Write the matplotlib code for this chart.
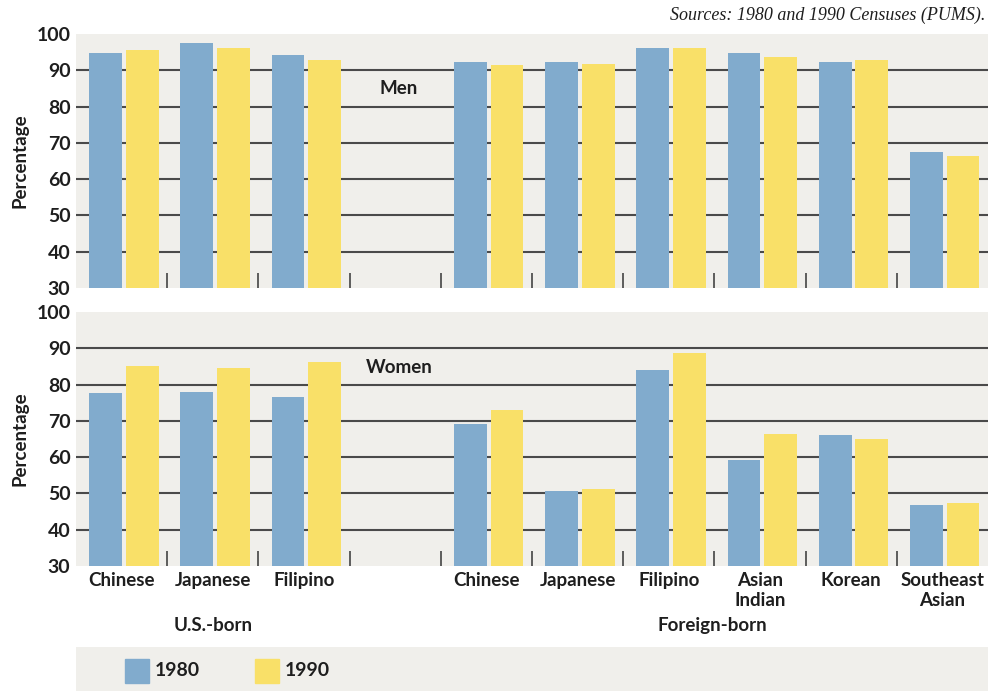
import numpy as np
import matplotlib.pyplot as plt
from matplotlib.patches import Rectangle

# data
categories = ["Chinese", "Japanese", "Filipino", "",
              "Chinese", "Japanese", "Filipino", "Asian\nIndian", "Korean", "Southeast\nAsian"]
men_1980 = [94.8, 97.5, 94.2, None, 92.3, 92.3, 96.1, 94.8, 92.3, 67.5]
men_1990 = [95.6, 96.1, 92.8, None, 91.4, 91.7, 96.1, 93.7, 92.8, 66.4]
women_1980 = [77.7, 77.9, 76.6, None, 69.1, 50.7, 84.0, 59.2, 66.1, 46.8]
women_1990 = [85.1, 84.6, 86.2, None, 73.0, 51.2, 88.7, 66.4, 65.0, 47.4]
yticks = [30, 40, 50, 60, 70, 80, 90, 100]
grid_levels = [40, 50, 60, 70, 80, 90]
groups = ["U.S.-born", "Foreign-born"]
years = ["1980", "1990"]

BLUE = "#81abcd"
YELLOW = "#f9e068"
BG = "#f0efeb"
GRID = "#4a4a4a"
TXT = "#1e1e1e"
FS = 13.5

plt.rcParams['font.family'] = ['Lato', 'DejaVu Sans']

fig = plt.figure(figsize=(9.88, 6.91), dpi=100)

W, H = 988.0, 691.0
left = 76 / W


def panel(bottom_px, top_px, v80, v90, label, label_y):
    ax = fig.add_axes([left, (H - bottom_px) / H, 1 - left, (bottom_px - top_px) / H])
    ax.set_facecolor(BG)
    x = np.arange(len(categories)) + 0.5
    for i in range(len(categories)):
        if v80[i] is None:
            continue
        ax.bar(x[i] - 0.175, v80[i] - 30, bottom=30, width=0.36, color=BLUE, zorder=2)
        ax.bar(x[i] + 0.225, v90[i] - 30, bottom=30, width=0.36, color=YELLOW, zorder=2)
    for g in grid_levels:
        ax.axhline(g, color=GRID, lw=1.5, zorder=1)
    # little separators at slot boundaries
    ax.vlines(np.arange(1, len(categories)), 30, 34.2, color="#444444", lw=1.2, zorder=1)
    ax.set_xlim(0, len(categories))
    ax.set_ylim(30, 100)
    ax.set_yticks(yticks)
    ax.set_yticklabels([str(t) for t in yticks], fontsize=FS + 0.5, fontweight="bold", color=TXT)
    ax.tick_params(axis="y", length=0, pad=4)
    ax.set_xticks([])
    for s in ax.spines.values():
        s.set_visible(False)
    ax.set_ylabel("Percentage", fontsize=FS, fontweight="bold", color=TXT, labelpad=6)
    ax.text(3.54, label_y, label, fontsize=FS, fontweight="bold", color=TXT,
            ha="center", va="center")
    return ax


ax1 = panel(288, 34, men_1980, men_1990, "Men", 85)
ax2 = panel(566, 312, women_1980, women_1990, "Women", 84.8)

# category labels under bottom panel
for i, c in enumerate(categories):
    if c:
        ax2.text(i + 0.5, 28.4, c, fontsize=FS, fontweight="bold", color=TXT,
                 ha="center", va="top", linespacing=1.25)
ax2.text(1.5, 13.5, groups[0], fontsize=FS, fontweight="bold", color=TXT,
         ha="center", va="center")
ax2.text(6.98, 13.5, groups[1], fontsize=FS, fontweight="bold", color=TXT,
         ha="center", va="center")

# legend strip
lax = fig.add_axes([left, 0, 1 - left, 44 / H])
lax.set_xlim(0, 912)
lax.set_ylim(0, 44)
lax.axis("off")
lax.add_patch(Rectangle((0, 0), 912, 44, color=BG, zorder=0))
for xp, col, yr in [(49, BLUE, years[0]), (179, YELLOW, years[1])]:
    lax.add_patch(Rectangle((xp, 8), 24, 24, color=col, zorder=1))
    lax.text(xp + 30, 20, yr, fontsize=FS + 0.5, fontweight="bold", color=TXT,
             ha="left", va="center")

fig.text(0.997, 0.978, "Sources: 1980 and 1990 Censuses (PUMS).", fontsize=13,
         family="Liberation Serif", style="italic", ha="right", va="center", color=TXT)

fig.savefig("out.png", dpi=100, facecolor="white")
